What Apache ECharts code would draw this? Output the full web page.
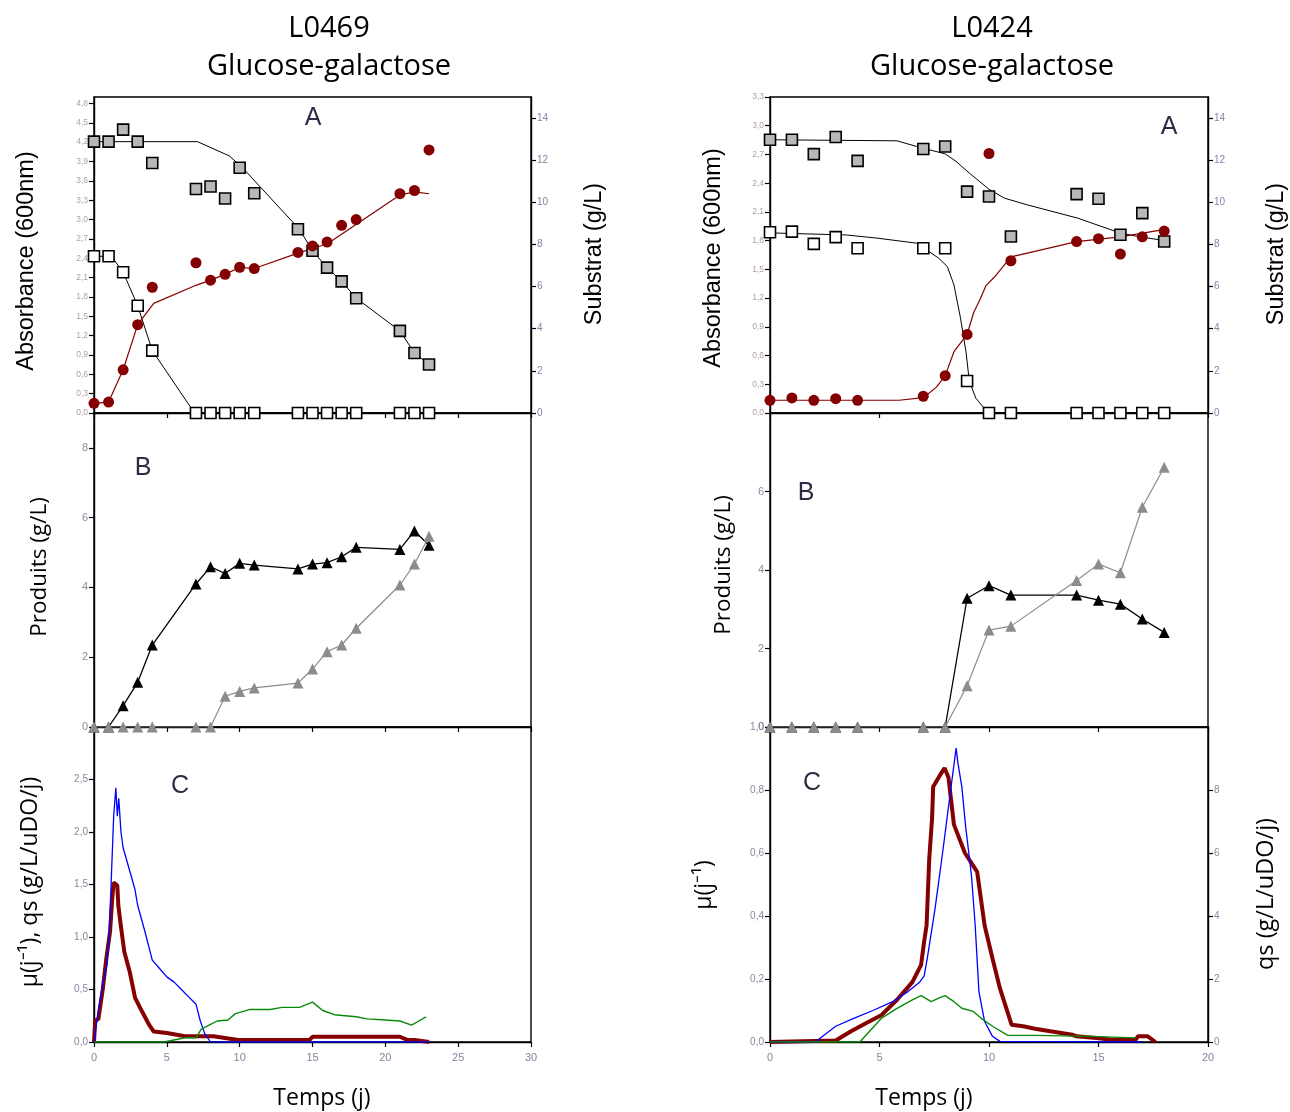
<!DOCTYPE html>
<html><head><meta charset="utf-8">
<script src="https://cdn.jsdelivr.net/npm/echarts@6/dist/echarts.min.js"></script>
<style>html,body{margin:0;padding:0;background:#fff}#c{width:1290px;height:1112px}</style>
</head><body><div id="c"></div>
<script>
// ---------- LEFT : L0469 ----------
const tL = [0,1,2,3,4,7,8,9,10,11,14,15,16,17,18,21,22,23];
const substratHautL = [12.88,12.88,13.45,12.88,11.87,10.63,10.75,10.18,11.64,10.43,8.72,7.7,6.9,6.25,5.45,3.9,2.85,2.3];
const substratBasL = [7.44,7.44,6.68,5.09,2.96,0,0,0,0,0,0,0,0,0,0,0,0,0];
const absL = [0.15,0.17,0.67,1.37,1.95,2.33,2.06,2.15,2.26,2.24,2.49,2.59,2.65,2.91,3.0,3.40,3.45,4.08];
const fitHautL_t = [0,7.1,9.3,10.2,14.1,15,16,17,18,21,22,23];
const fitHautL_v = [12.88,12.88,12.2,11.64,8.72,7.7,6.9,6.25,5.45,3.9,2.85,2.3];
const fitBasL_t = [0,1.2,2,3,4,6.9,23];
const fitBasL_v = [7.44,7.44,6.68,5.09,2.96,0,0];
const fitAbsL_t = [0,1,2,3,4.1,7,8,9,10,11,14,15,16,21,22,23];
const fitAbsL_v = [0.15,0.17,0.67,1.37,1.70,1.98,2.06,2.15,2.26,2.24,2.48,2.55,2.62,3.38,3.43,3.40];
const prodNoirL = [0,0,0.61,1.28,2.35,4.10,4.59,4.40,4.69,4.64,4.53,4.67,4.71,4.88,5.15,5.09,5.62,5.21];
const prodGrisL = [0,0,0,0,0,0,0,0.88,1.02,1.12,1.26,1.66,2.16,2.35,2.83,4.07,4.67,5.47];
const muL_t = [0,0.08,0.3,0.6,0.85,1.1,1.25,1.35,1.6,1.67,1.84,2.08,2.45,2.82,3.3,3.8,4.1,5,6.25,8.2,9.9,14.8,15,21,21.5,22,23];
const muL_v = [0,0.2,0.22,0.5,0.8,1.05,1.36,1.52,1.49,1.3,1.11,0.86,0.67,0.42,0.29,0.16,0.1,0.085,0.055,0.055,0.02,0.02,0.05,0.05,0.02,0.02,0];
const bleuL_t = [0,0.3,0.6,0.9,1.05,1.2,1.35,1.5,1.6,1.7,1.85,2.0,2.8,3.0,3.5,4.0,4.5,5.0,5.5,6.0,6.5,7.0,7.3,7.6,8.0,23];
const bleuL_v = [0,0.3,0.55,0.75,1.05,1.6,2.15,2.42,2.15,2.32,2.0,1.85,1.46,1.3,1.05,0.78,0.7,0.62,0.57,0.5,0.43,0.36,0.2,0.08,0,0];
const vertL_t = [0,4.8,6.25,7,7.35,7.97,8.45,9.2,9.7,10.2,10.7,12.1,12.9,14.1,15,15.7,16.5,18,18.75,20,21,21.8,22.3,22.8];
const vertL_v = [0,0,0.04,0.04,0.12,0.165,0.2,0.21,0.27,0.29,0.31,0.31,0.33,0.33,0.38,0.30,0.26,0.24,0.22,0.21,0.2,0.16,0.2,0.24];

// ---------- RIGHT : L0424 ----------
const tR = [0,1,2,3,4,7,8,9,10,11,14,15,16,17,18];
const substratHautR = [12.97,12.97,12.29,13.1,11.97,12.53,12.65,10.51,10.28,8.38,10.39,10.17,8.46,9.49,8.14];
const substratBasR = [8.58,8.61,8.03,8.35,7.82,7.82,7.82,1.52,0,0,0,0,0,0,0];
const absR = [0.133,0.157,0.133,0.15,0.133,0.175,0.39,0.82,2.71,1.59,1.79,1.82,1.66,1.84,1.90];
const fitHautR_t = [0,5.8,6.7,8.0,8.5,9.1,10.0,10.7,11.75,14.05,16.0,16.8,18.1];
const fitHautR_v = [12.97,12.92,12.65,12.3,11.94,11.39,10.62,10.2,9.88,9.25,8.54,8.38,8.17];
const fitBasR_t = [0,3.5,4.9,6.7,7.7,8.1,8.4,8.7,8.95,9.1,9.4,9.85,10,18.1];
const fitBasR_v = [8.55,8.45,8.3,8.06,7.35,6.95,6.08,4.5,2.9,1.52,0.7,0.14,0,0];
const fitAbsR_t = [0,5.9,7.0,7.6,8.0,8.4,9.0,9.3,9.6,9.86,10.25,11,11.75,14,16,18.1];
const fitAbsR_v = [0.133,0.133,0.16,0.27,0.39,0.64,0.82,1.05,1.19,1.33,1.42,1.63,1.67,1.79,1.84,1.92];
const prodNoirR = [0,0,0,0,0,0,0,3.28,3.6,3.36,3.36,3.23,3.13,2.75,2.41];
const prodGrisR = [0,0,0,0,0,0,0,1.05,2.47,2.57,3.73,4.15,3.93,5.6,6.62];
const muR_t = [0,3.0,3.7,4.4,5.1,5.8,6.5,6.9,7.04,7.15,7.27,7.4,7.45,7.7,7.97,8.15,8.4,8.9,9.46,9.8,10.16,10.5,11.03,11.56,12.1,12.8,13.8,14.0,14.9,15.6,16.7,16.8,17.25,17.6];
const muR_v = [0,0.005,0.034,0.06,0.086,0.134,0.19,0.245,0.32,0.37,0.58,0.71,0.81,0.84,0.87,0.84,0.69,0.6,0.54,0.37,0.265,0.17,0.055,0.05,0.042,0.034,0.023,0.018,0.013,0.007,0.007,0.018,0.018,0];
const bleuR_t = [0,2.1,2.3,3.0,3.85,4.7,5.6,6.3,6.83,7.04,7.18,7.53,7.88,8.23,8.5,8.58,8.76,8.93,9.2,9.37,9.54,9.8,10.16,10.5,17];
const bleuR_v = [0,0,0.13,0.5,0.76,1.0,1.28,1.6,1.9,2.1,2.65,4.2,6.0,7.9,9.33,8.86,8.1,6.86,5.28,3.7,1.6,0.65,0.18,0.02,0];
const vertR_t = [0,4.1,4.4,5.1,5.8,6.5,6.9,7.36,7.7,8.0,8.4,8.76,9.28,9.63,10.16,10.86,12.1,14.7,16.7];
const vertR_v = [0,0,0.23,0.76,1.07,1.34,1.47,1.28,1.39,1.47,1.28,1.07,0.97,0.76,0.5,0.21,0.21,0.18,0.13];

const zip = (t, v) => t.map((x, i) => [x, v[i]]);
const comma = v => v.toFixed(1).replace('.', ',');

const RED = '#850000', GRAYFILL = '#b8b8b8', TRIGRAY = '#8c8c8c';
const grids = [
  {left:94, top:97, width:437, height:316},
  {left:94, top:413, width:437, height:314},
  {left:94, top:727, width:437, height:315},
  {left:770, top:97, width:438, height:316},
  {left:770, top:413, width:438, height:314},
  {left:770, top:727, width:438, height:315}
].map(g => Object.assign(g, {show:true, borderColor:'#000', borderWidth:1.4, containLabel:false}));

function xAx(gi, max, labels) {
  return {type:'value', gridIndex:gi, min:0, max:max, interval:5,
    axisLine:{show:true, onZero:false, lineStyle:{color:'#000', width:1.4}},
    axisTick:{show:true, length:5, lineStyle:{color:'#000', width:1.2}},
    splitLine:{show:false},
    axisLabel:{show:labels, fontSize:11, color:'#8a82a0', margin:10, fontFamily:'Liberation Sans'}};
}
function yAx(gi, pos, max, interval, fmt, font, color, showMax) {
  return {type:'value', gridIndex:gi, position:pos, min:0, max:max, interval:interval,
    axisLine:{show:true, onZero:false, lineStyle:{color:'#000', width:1.4}},
    axisTick:{show:true, length:5, lineStyle:{color:'#000', width:1.2}},
    splitLine:{show:false},
    axisLabel:{show:true, fontSize:font, color:color, margin:6, formatter:fmt,
      showMaxLabel:showMax, showMinLabel:true, fontFamily:'Liberation Sans'}};
}
const intFmt = v => String(Math.round(v));

const xAxes = [xAx(0,30,false), xAx(1,30,false), xAx(2,30,true), xAx(3,20,false), xAx(4,20,false), xAx(5,20,true)];
const yAxes = [
  yAx(0,'left',4.9,0.3,comma,8.5,'#b0a0a8',false),    //0 L-A abs
  yAx(0,'right',15,2,intFmt,10,'#7f86aa',false),       //1 L-A substrat
  yAx(1,'left',9,2,intFmt,11,'#918aa0',false),         //2 L-B
  yAx(2,'left',3,0.5,comma,10,'#8a86a0',false),        //3 L-C
  yAx(3,'left',3.3,0.3,comma,8.5,'#b0a0a8',true),      //4 R-A abs
  yAx(3,'right',15,2,intFmt,10,'#7f86aa',false),       //5 R-A substrat
  yAx(4,'left',8,2,intFmt,11,'#918aa0',false),         //6 R-B
  yAx(5,'left',1.0,0.2,comma,10,'#8a86a0',true),       //7 R-C mu
  yAx(5,'right',10,2,intFmt,10,'#8a86a0',false)        //8 R-C qs
];

function fit(xi, yi, data, color, w) {
  return {type:'line', xAxisIndex:xi, yAxisIndex:yi, data:data, showSymbol:false, symbol:'none',
    lineStyle:{color:color, width:w}, z:2, silent:true};
}
function pts(xi, yi, data, symbol, size, fill, border, bw) {
  return {type:'scatter', xAxisIndex:xi, yAxisIndex:yi, data:data, symbol:symbol, symbolSize:size,
    itemStyle:{color:fill, borderColor:border, borderWidth:bw, opacity:1}, z:3, silent:true};
}
function tri(xi, yi, data, color, lw) {
  return {type:'line', xAxisIndex:xi, yAxisIndex:yi, data:data, symbol:'triangle', symbolSize:11,
    showSymbol:true, itemStyle:{color:color}, lineStyle:{color:color, width:lw}, z:3, silent:true};
}
function crv(xi, yi, data, color, w, z) {
  return {type:'line', xAxisIndex:xi, yAxisIndex:yi, data:data, showSymbol:false, symbol:'none',
    lineStyle:{color:color, width:w}, z:z, silent:true};
}

const series = [
  // Left A
  fit(0,1,zip(fitHautL_t,fitHautL_v),'#000',1),
  fit(0,1,zip(fitBasL_t,fitBasL_v),'#000',1),
  fit(0,0,zip(fitAbsL_t,fitAbsL_v),RED,1.2),
  pts(0,1,zip(tL,substratHautL),'rect',11,GRAYFILL,'#000',1.6),
  pts(0,1,zip(tL,substratBasL),'rect',11,'#fff','#000',1.6),
  pts(0,0,zip(tL,absL),'circle',11,RED,RED,0),
  // Left B
  tri(1,2,zip(tL,prodNoirL),'#000',1.3),
  tri(1,2,zip(tL,prodGrisL),TRIGRAY,1.2),
  // Left C
  crv(2,3,zip(muL_t,muL_v),RED,4,2),
  crv(2,3,zip(bleuL_t,bleuL_v),'#0000ff',1.3,3),
  crv(2,3,zip(vertL_t,vertL_v),'#0a8a0a',1.4,3),
  // Right A
  fit(3,5,zip(fitHautR_t,fitHautR_v),'#000',1),
  fit(3,5,zip(fitBasR_t,fitBasR_v),'#000',1),
  fit(3,4,zip(fitAbsR_t,fitAbsR_v),RED,1.2),
  pts(3,5,zip(tR,substratHautR),'rect',11,GRAYFILL,'#000',1.6),
  pts(3,5,zip(tR,substratBasR),'rect',11,'#fff','#000',1.6),
  pts(3,4,zip(tR,absR),'circle',11,RED,RED,0),
  // Right B
  tri(4,6,zip(tR,prodNoirR),'#000',1.3),
  tri(4,6,zip(tR,prodGrisR),TRIGRAY,1.2),
  // Right C
  crv(5,7,zip(muR_t,muR_v),RED,4,2),
  crv(5,8,zip(bleuR_t,bleuR_v),'#0000ff',1.3,3),
  crv(5,8,zip(vertR_t,vertR_v),'#0a8a0a',1.4,3)
];

function txt(x, y, text, font, rot, color) {
  return {type:'text', x:x, y:y, rotation:rot || 0, z:10, silent:true,
    style:{text:text, font:font, fill:color || '#000', textAlign:'center', textVerticalAlign:'middle'}};
}
const OS = '"Open Sans", sans-serif', LS = '"Liberation Sans", Arial, sans-serif';
const R90 = Math.PI / 2;
const graphic = [
  txt(329, 29, 'L0469', '29px ' + OS),
  txt(329, 67, 'Glucose-galactose', '29px ' + OS),
  txt(992, 29, 'L0424', '29px ' + OS),
  txt(992, 67, 'Glucose-galactose', '29px ' + OS),
  txt(27, 261, 'Absorbance (600nm)', '23.5px ' + LS, R90),
  txt(595, 254, 'Substrat (g/L)', '23.5px ' + LS, R90),
  txt(714, 258, 'Absorbance (600nm)', '23.5px ' + LS, R90),
  txt(1277, 254, 'Substrat (g/L)', '23.5px ' + LS, R90),
  txt(40, 567, 'Produits (g/L)', '22.5px ' + OS, R90),
  txt(724, 565, 'Produits (g/L)', '22.5px ' + OS, R90),
  txt(30, 882, 'µ(j⁻¹), qs (g/L/uDO/j)', '23px ' + OS, R90),
  txt(704, 885, 'µ(j⁻¹)', '23px ' + OS, R90),
  txt(1266, 894, 'qs (g/L/uDO/j)', '23.5px ' + OS, R90),
  txt(322, 1098, 'Temps (j)', '23px ' + OS),
  txt(924, 1098, 'Temps (j)', '23px ' + OS),
  txt(313, 118, 'A', '25px ' + LS, 0, '#2c2c44'),
  txt(1169, 127, 'A', '25px ' + LS, 0, '#2c2c44'),
  txt(143, 468, 'B', '25px ' + LS, 0, '#2c2c44'),
  txt(806, 493, 'B', '25px ' + LS, 0, '#2c2c44'),
  txt(180, 786, 'C', '25px ' + LS, 0, '#2c2c44'),
  txt(812, 783, 'C', '25px ' + LS, 0, '#2c2c44')
];

const chart = echarts.init(document.getElementById('c'), null, {renderer:'canvas'});
chart.setOption({
  animation:false,
  backgroundColor:'#fff',
  grid:grids, xAxis:xAxes, yAxis:yAxes, series:series, graphic:graphic
});
</script></body></html>
